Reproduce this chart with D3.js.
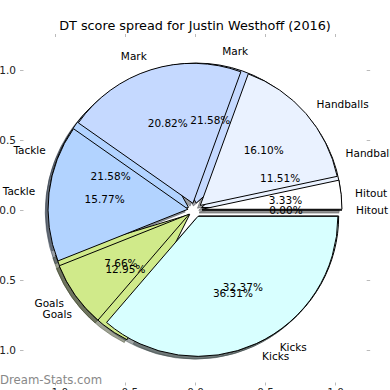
<!DOCTYPE html>
<html>
<head>
<meta charset="utf-8">
<script src="https://cdn.jsdelivr.net/npm/d3@7"></script>
<style>
  html, body { margin: 0; padding: 0; background: #fff; }
  svg { display: block; font-family: "DejaVu Sans", sans-serif; }
</style>
</head>
<body>
<script>
// categories go counter-clockwise from 3 o'clock, like the original
const categories = ['Hitout', 'Handballs', 'Mark', 'Tackle', 'Goals', 'Kicks'];
const spreadA = [0.00, 11.51, 21.58, 21.58, 12.95, 32.37];
const spreadB = [3.33, 16.10, 20.82, 15.77, 7.66, 36.31];
const tickValues = [-1, -0.5, 0, 0.5, 1];
const palette = ['#ffffff', '#eaf2ff', '#c5d9ff', '#b2d3ff', '#d0ea8a', '#d8ffff'];

const width = 390, height = 390;
const title = 'DT score spread for Justin Westhoff (2016)';

const svg = d3.select('body').append('svg')
  .attr('width', width)
  .attr('height', height);

const x = d3.scaleLinear().domain([-1, 1]).range([55, 335]);
const y = d3.scaleLinear().domain([-1, 1]).range([350, 70]);
const R = x(1) - x(0);
const cx = x(0), cy = y(0);

const explode = 0.05;
const shadowShift = 0.02 * R;

const color = d3.scaleOrdinal().domain(categories).range(palette);

const pie = d3.pie()
  .sort(null)
  .value(d => d.value)
  .startAngle(Math.PI / 2)
  .endAngle(Math.PI / 2 - 2 * Math.PI);

const arc = d3.arc().innerRadius(0).outerRadius(R);
const offsetArc = d3.arc().innerRadius(explode * R).outerRadius(explode * R);
const labelArc = d3.arc().innerRadius(1.1 * R).outerRadius(1.1 * R);
const pctArc = d3.arc().innerRadius(0.6 * R).outerRadius(0.6 * R);

const toRows = vals => categories.map((c, i) => ({ key: c, value: vals[i] }));
const pies = [spreadA, spreadB].map(vals => {
  const rows = toRows(vals);
  const total = d3.sum(rows, d => d.value);
  return pie(rows).map(d => {
    const [ex, ey] = offsetArc.centroid(d);
    return Object.assign(d, { ex: cx + ex, ey: cy + ey, pct: 100 * d.value / total });
  });
});

// axes (no spines, only the little grey ticks)
const tickFmt = d3.format('.1f');
function styleAxis(g) {
  g.select('.domain').remove();
  g.selectAll('.tick line').attr('stroke', '#bbb');
  g.selectAll('.tick text').attr('fill', '#222').attr('font-size', 10.5)
    .attr('font-family', '"DejaVu Sans", sans-serif');
}
svg.append('g').attr('transform', 'translate(23.5,0)')
  .call(d3.axisLeft(y).tickValues(tickValues).tickSize(3.5).tickPadding(4).tickFormat(tickFmt))
  .call(styleAxis);
svg.append('g').attr('transform', 'translate(366.7,0)')
  .call(d3.axisRight(y).tickValues(tickValues).tickSize(3.5).tickFormat(''))
  .call(styleAxis);
svg.append('g').attr('transform', 'translate(0,37)')
  .call(d3.axisTop(x).tickValues(tickValues).tickSize(3).tickFormat(''))
  .call(styleAxis);
svg.append('g').attr('transform', 'translate(0,382.5)')
  .call(d3.axisBottom(x).tickValues(tickValues).tickSize(3).tickPadding(3).tickFormat(tickFmt))
  .call(styleAxis);

// shadows sit under every wedge
const shadows = svg.append('g');
pies.forEach(slices => {
  shadows.selectAll(null)
    .data(slices)
    .enter().append('path')
    .attr('d', arc)
    .attr('transform', d => `translate(${d.ex - shadowShift},${d.ey + shadowShift})`)
    .attr('fill', d => { const c = d3.rgb(color(d.data.key)); return d3.rgb(c.r * 0.3, c.g * 0.3, c.b * 0.3); })
    .attr('stroke', d => { const c = d3.rgb(color(d.data.key)); return d3.rgb(c.r * 0.3, c.g * 0.3, c.b * 0.3); })
    .attr('fill-opacity', 0.5)
    .attr('stroke-opacity', 0.5)
    .attr('stroke-width', 1);
});

pies.forEach(slices => {
  svg.append('g').selectAll('path')
    .data(slices)
    .enter().append('path')
    .attr('d', arc)
    .attr('transform', d => `translate(${d.ex},${d.ey})`)
    .attr('fill', d => color(d.data.key))
    .attr('stroke', '#000')
    .attr('stroke-width', 1)
    .attr('stroke-linejoin', 'miter');
});

pies.forEach(slices => {
  const g = svg.append('g').attr('font-size', 10.5).attr('fill', '#000');
  slices.forEach(d => {
    const [lx, ly] = labelArc.centroid(d);
    g.append('text')
      .attr('x', d.ex + lx)
      .attr('y', d.ey + ly)
      .attr('dominant-baseline', 'central')
      .attr('text-anchor', (d.ex + lx) > cx ? 'start' : 'end')
      .text(d.data.key);
    const [px, py] = pctArc.centroid(d);
    g.append('text')
      .attr('x', d.ex + px)
      .attr('y', d.ey + py)
      .attr('dominant-baseline', 'central')
      .attr('text-anchor', 'middle')
      .text(d.pct.toFixed(2) + '%');
  });
});

svg.append('text')
  .attr('x', width / 2)
  .attr('y', 30)
  .attr('text-anchor', 'middle')
  .attr('font-size', 12.8)
  .attr('fill', '#000')
  .text(title);

svg.append('text')
  .attr('x', 0)
  .attr('y', 384)
  .attr('font-size', 11.7)
  .attr('fill', '#888')
  .text('Dream-Stats.com');
</script>
</body>
</html>
